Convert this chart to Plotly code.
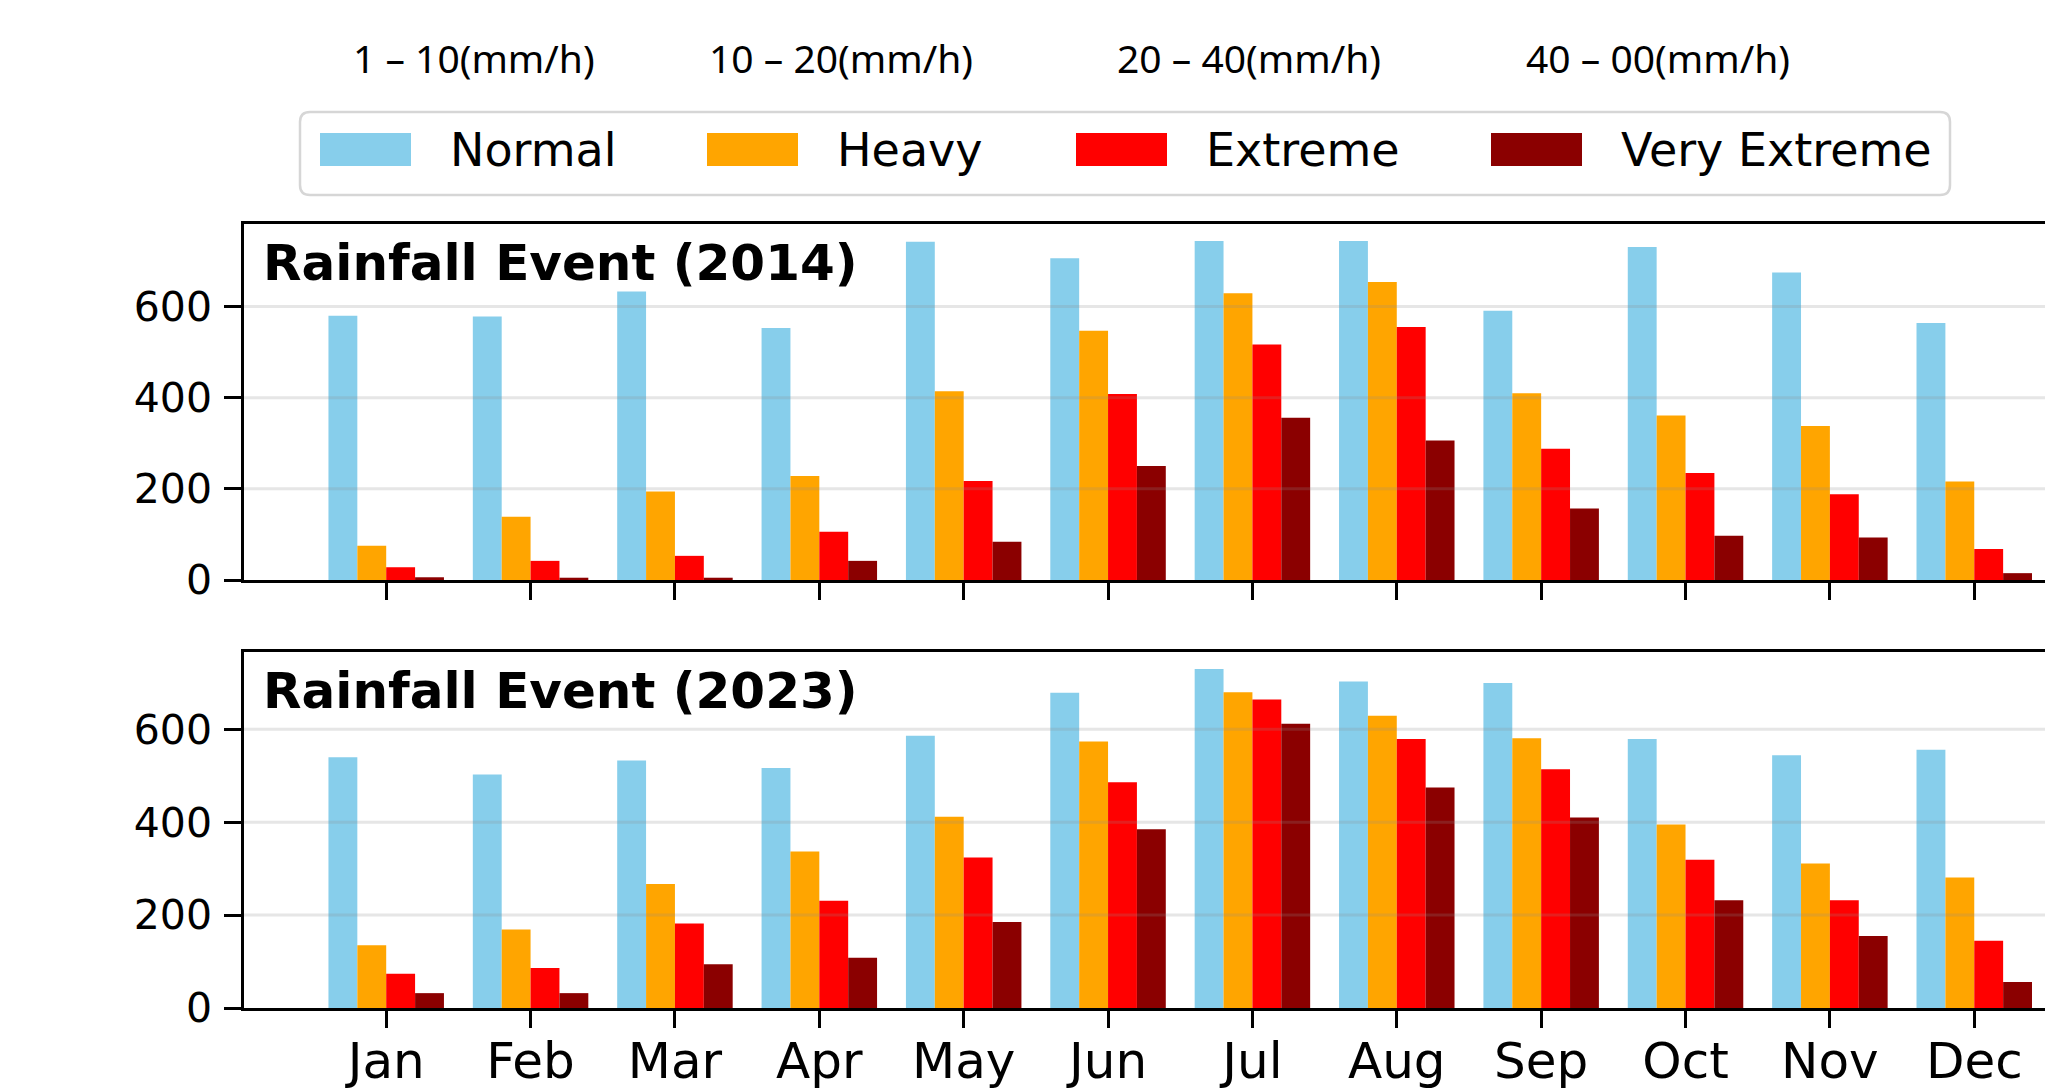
import plotly.graph_objects as go

# ---------------- data ----------------
months = ['Jan', 'Feb', 'Mar', 'Apr', 'May', 'Jun', 'Jul', 'Aug', 'Sep', 'Oct', 'Nov', 'Dec']
categories = ['Normal', 'Heavy', 'Extreme', 'Very Extreme']
intensity_labels = ['1 – 10(mm/h)', '10 – 20(mm/h)', '20 – 40(mm/h)', '40 – 00(mm/h)']
colors = ['#87CEEB', '#FFA500', '#FF0000', '#8B0000']
ytick_vals = [0, 200, 400, 600]

normal_2014 = [580, 578, 633, 553, 742, 706, 744, 744, 591, 731, 675, 564]
heavy_2014 = [75, 139, 194, 228, 414, 547, 629, 654, 410, 361, 338, 216]
extreme_2014 = [28, 42, 53, 106, 217, 408, 517, 555, 288, 235, 188, 68]
vextreme_2014 = [6, 5, 5, 42, 84, 250, 356, 306, 157, 97, 93, 15]

normal_2023 = [540, 503, 533, 517, 586, 679, 730, 703, 700, 579, 544, 556]
heavy_2023 = [135, 169, 267, 337, 412, 574, 680, 629, 581, 395, 311, 281]
extreme_2023 = [74, 86, 182, 231, 324, 486, 664, 579, 514, 319, 232, 145]
vextreme_2023 = [32, 32, 94, 108, 185, 385, 612, 475, 410, 232, 155, 56]

series_2014 = [normal_2014, heavy_2014, extreme_2014, vextreme_2014]
series_2023 = [normal_2023, heavy_2023, extreme_2023, vextreme_2023]
panel_titles = ['Rainfall Event (2014)', 'Rainfall Event (2023)']

# ---------------- layout geometry (pixels) ----------------
W, H = 2045, 1090
L, RGT = 244, 2045
TOP, BOT = 224, 1008
P1 = (224, 580)   # top panel pixel extent
P2 = (652, 1008)  # bottom panel pixel extent


def pxx(x):
    return (x - L) / (RGT - L)


def pxy(y):
    return (BOT - y) / (BOT - TOP)


fig = go.Figure()
for series, xa, ya in [(series_2014, 'x', 'y'), (series_2023, 'x2', 'y2')]:
    for name, vals, col in zip(categories, series, colors):
        fig.add_trace(go.Bar(
            x=months, y=vals, name=name, xaxis=xa, yaxis=ya,
            marker=dict(color=col, line=dict(width=0)),
            showlegend=False,
        ))

axis_common = dict(
    showline=True, linecolor='black', linewidth=2.5,
    ticks='outside', ticklen=17, tickwidth=2.5, tickcolor='black',
    showgrid=False, zeroline=False,
)

xrange = [-0.985, 11.49]
ymax1 = 1.05 * max(max(s) for s in series_2014)
ymax2 = 1.05 * max(max(s) for s in series_2023)

fig.update_layout(
    width=W, height=H,
    margin=dict(l=L, r=W - RGT, t=TOP, b=H - BOT, pad=0),
    paper_bgcolor='white', plot_bgcolor='white',
    barmode='group', bargap=0.2, bargroupgap=0,
    font=dict(family='DejaVu Sans', color='black'),
    xaxis=dict(axis_common, type='category', categoryorder='array', categoryarray=months,
               range=xrange, anchor='y', domain=[0, 1], mirror=True,
               showticklabels=False),
    yaxis=dict(axis_common, range=[0, ymax1], tickvals=ytick_vals, anchor='x',
               domain=[pxy(P1[1]), pxy(P1[0])],
               tickfont=dict(family='DejaVu Sans', size=41, color='black'),
               ticklabelstandoff=4),
    xaxis2=dict(axis_common, type='category', categoryorder='array', categoryarray=months,
                range=xrange, anchor='y2', domain=[0, 1], mirror=True,
                tickfont=dict(family='DejaVu Sans', size=50, color='black'),
                ticklabelstandoff=-10),
    yaxis2=dict(axis_common, range=[0, ymax2], tickvals=ytick_vals, anchor='x2',
                domain=[pxy(P2[1]), pxy(P2[0])],
                tickfont=dict(family='DejaVu Sans', size=41, color='black'),
                ticklabelstandoff=4),
)

shapes = []
annotations = []

# gridlines drawn above the bars (semi-transparent)
for xa, ya in [('x', 'y'), ('x2', 'y2')]:
    for v in ytick_vals[1:]:
        shapes.append(dict(type='line', xref=xa + ' domain', x0=0, x1=1, yref=ya, y0=v, y1=v,
                           line=dict(color='rgba(140,140,140,0.22)', width=3), layer='above'))

# panel titles
for title, xa, ya in zip(panel_titles, ['x', 'x2'], ['y', 'y2']):
    annotations.append(dict(text='<b>' + title + '</b>', xref=xa + ' domain', yref=ya + ' domain',
                            x=17 / (RGT - L), y=1 - 39 / 356, xanchor='left', yanchor='middle',
                            showarrow=False, font=dict(family='DejaVu Sans', size=50, color='black')))

# custom legend
bx0, by0, bx1, by1, rr = 300, 112, 1950, 195, 10
path = (f"M {pxx(bx0 + rr)},{pxy(by0)} L {pxx(bx1 - rr)},{pxy(by0)} "
        f"Q {pxx(bx1)},{pxy(by0)} {pxx(bx1)},{pxy(by0 + rr)} "
        f"L {pxx(bx1)},{pxy(by1 - rr)} Q {pxx(bx1)},{pxy(by1)} {pxx(bx1 - rr)},{pxy(by1)} "
        f"L {pxx(bx0 + rr)},{pxy(by1)} Q {pxx(bx0)},{pxy(by1)} {pxx(bx0)},{pxy(by1 - rr)} "
        f"L {pxx(bx0)},{pxy(by0 + rr)} Q {pxx(bx0)},{pxy(by0)} {pxx(bx0 + rr)},{pxy(by0)} Z")
shapes.append(dict(type='path', xref='paper', yref='paper', path=path,
                   line=dict(color='#d6d6d6', width=2.5), fillcolor='white', layer='above'))

patch_x = [320, 707, 1076, 1491]
for x0, name, col in zip(patch_x, categories, colors):
    shapes.append(dict(type='rect', xref='paper', yref='paper',
                       x0=pxx(x0), x1=pxx(x0 + 91), y0=pxy(166), y1=pxy(133),
                       fillcolor=col, line=dict(width=0), layer='above'))
    annotations.append(dict(text=name, xref='paper', yref='paper', x=pxx(x0 + 128), y=pxy(150),
                            xanchor='left', yanchor='middle', showarrow=False,
                            font=dict(family='DejaVu Sans', size=46, color='black')))

label_cx = [474, 841, 1249, 1658]
for cx, lab in zip(label_cx, intensity_labels):
    annotations.append(dict(text=lab, xref='paper', yref='paper', x=pxx(cx), y=pxy(58),
                            xanchor='center', yanchor='middle', showarrow=False,
                            font=dict(family='Noto Sans', size=39, color='black')))

fig.update_layout(shapes=shapes, annotations=annotations)
fig.write_html('out.html',
               config={'displayModeBar': False},
               post_script="document.body.style.margin='0px';document.body.style.overflow='hidden';")
